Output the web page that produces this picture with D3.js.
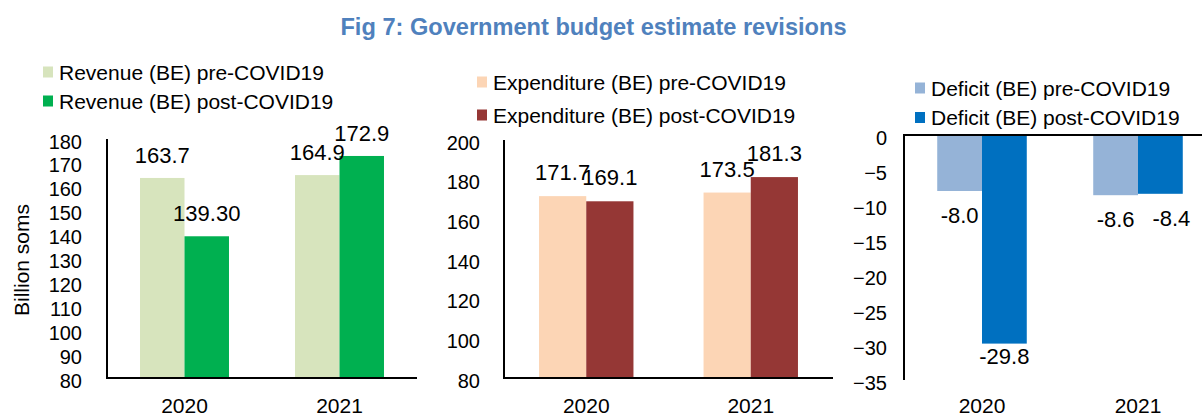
<!DOCTYPE html>
<html>
<head>
<meta charset="utf-8">
<script src="https://cdn.jsdelivr.net/npm/d3@7/dist/d3.min.js"></script>
<style>
  html, body { margin: 0; padding: 0; background: #ffffff; }
  svg { display: block; font-family: "Liberation Sans", Arial, Helvetica, sans-serif; }
</style>
</head>
<body>
<svg id="chart" width="1202" height="415"></svg>
<script>
// ---- data ----
const years = ["2020", "2021"];

const revenuePre  = [163.7, 164.9];
const revenuePost = [139.30, 172.9];
const revenueDecimals = [[1, 1], [2, 1]];

const expenditurePre  = [171.7, 173.5];
const expenditurePost = [169.1, 181.3];
const expenditureDecimals = [[1, 1], [1, 1]];

const deficitPre  = [-8.0, -8.6];
const deficitPost = [-29.8, -8.4];
const deficitDecimals = [[1, 1], [1, 1]];

const revenueTicks     = [80, 90, 100, 110, 120, 130, 140, 150, 160, 170, 180];
const expenditureTicks = [80, 100, 120, 140, 160, 180, 200];
const deficitTicks     = [0, -5, -10, -15, -20, -25, -30, -35];

const seriesNames = {
  revenue: ["Revenue (BE) pre-COVID19", "Revenue (BE) post-COVID19"],
  expenditure: ["Expenditure (BE) pre-COVID19", "Expenditure (BE) post-COVID19"],
  deficit: ["Deficit (BE) pre-COVID19", "Deficit (BE) post-COVID19"]
};

// ---- layout ----
const panels = [
  {
    names: seriesNames.revenue,
    values: [revenuePre, revenuePost],
    decimals: revenueDecimals,
    colors: ["#D7E4BD", "#00B050"],
    ticks: revenueTicks,
    domain: [80, 180],
    xRange: [107, 417], yRange: [378, 139],
    tickRight: 82,
    legend: { x: 43, rows: [72, 101] },
    labelAbove: 15,
    nudges: [[[0, 0], [0, 0]], [[0, 0], [0, 0]]]
  },
  {
    names: seriesNames.expenditure,
    values: [expenditurePre, expenditurePost],
    decimals: expenditureDecimals,
    colors: ["#FCD5B5", "#953735"],
    ticks: expenditureTicks,
    domain: [80, 200],
    xRange: [504, 833], yRange: [378, 140],
    tickRight: 480,
    legend: { x: 477, rows: [82, 115] },
    labelAbove: 16,
    nudges: [[[0, 0], [0, 0]], [[0, 0], [0, 0]]]
  },
  {
    names: seriesNames.deficit,
    values: [deficitPre, deficitPost],
    decimals: deficitDecimals,
    colors: ["#95B3D7", "#0070C0"],
    ticks: deficitTicks,
    domain: [-35, 0],
    xRange: [904, 1216], yRange: [380, 135],
    tickRight: 887,
    legend: { x: 915, rows: [88, 117.5] },
    labelBelow: 32,
    // [series][year] -> [dx, dy] fine placement of value labels
    nudges: [[[0, 0], [0, 0]], [[0, -12], [11, 0]]]
  }
];

const svg = d3.select("#chart");
const textColor = "#000000";

// title
svg.append("text")
  .attr("x", 593.5).attr("y", 35)
  .attr("text-anchor", "middle")
  .attr("font-size", 23.6).attr("font-weight", "bold")
  .attr("fill", "#4F81BD")
  .text("Fig 7: Government budget estimate revisions");

// y-axis title of the first panel
svg.append("text")
  .attr("transform", "translate(29,260) rotate(-90)")
  .attr("text-anchor", "middle")
  .attr("font-size", 21)
  .attr("fill", textColor)
  .text("Billion soms");

const barFrac = 0.287;

panels.forEach(p => {
  const g = svg.append("g");
  const x0 = d3.scaleBand().domain(years).range(p.xRange).padding(0);
  const barW = x0.step() * barFrac;
  const xs = d3.scaleBand().domain([0, 1]).range([0, 2 * barW]).padding(0);
  const y = d3.scaleLinear().domain(p.domain).range(p.yRange);
  const baseVal = p.domain[1] <= 0 ? 0 : p.domain[0];
  const negative = p.domain[1] <= 0;

  // y tick labels
  const yAxis = d3.axisLeft(y).tickValues(p.ticks).tickSize(0).tickPadding(0);
  const ya = g.append("g").attr("transform", `translate(${p.tickRight},0)`).call(yAxis);
  ya.select(".domain").remove();
  ya.selectAll("text")
    .attr("font-size", 20)
    .attr("font-family", "Liberation Sans, Arial, sans-serif")
    .attr("fill", textColor)
    .attr("x", 0)
    .attr("dy", null)
    .attr("dominant-baseline", "auto")
    .attr("transform", "translate(0,9)");

  // bars
  const rows = [];
  p.values.forEach((vals, si) => {
    vals.forEach((v, yi) => {
      rows.push({ si, yi, v, year: years[yi], dec: p.decimals[si][yi] });
    });
  });

  g.selectAll("rect.bar").data(rows).enter().append("rect")
    .attr("class", "bar")
    .attr("x", d => x0(d.year) + x0.bandwidth() / 2 - barW + xs(d.si))
    .attr("width", barW)
    .attr("y", d => Math.min(y(d.v), y(baseVal)))
    .attr("height", d => Math.abs(y(d.v) - y(baseVal)))
    .attr("fill", d => p.colors[d.si]);

  // axis lines
  g.append("line")
    .attr("x1", p.xRange[0]).attr("x2", p.xRange[0])
    .attr("y1", p.yRange[1]).attr("y2", p.yRange[0])
    .attr("stroke", "#000").attr("stroke-width", 2);
  g.append("line")
    .attr("x1", p.xRange[0] - 1).attr("x2", p.xRange[1])
    .attr("y1", y(baseVal)).attr("y2", y(baseVal))
    .attr("stroke", "#000").attr("stroke-width", 2);

  // value labels
  g.selectAll("text.val").data(rows).enter().append("text")
    .attr("class", "val")
    .attr("text-anchor", "middle")
    .attr("font-size", 22)
    .attr("fill", textColor)
    .attr("x", d => x0(d.year) + x0.bandwidth() / 2 - barW + xs(d.si) + barW / 2 + p.nudges[d.si][d.yi][0])
    .attr("y", d => (negative ? y(d.v) + p.labelBelow : y(d.v) - p.labelAbove) + p.nudges[d.si][d.yi][1])
    .text(d => d.v.toFixed(d.dec));

  // category labels along the bottom
  const xAxis = d3.axisBottom(x0).tickSize(0).tickPadding(0);
  const xa = g.append("g").attr("transform", `translate(0,413)`).call(xAxis);
  xa.select(".domain").remove();
  xa.selectAll("text")
    .attr("font-size", 21)
    .attr("font-family", "Liberation Sans, Arial, sans-serif")
    .attr("fill", textColor)
    .attr("y", 0).attr("dy", null);

  // legend
  const lg = g.append("g");
  p.names.forEach((name, i) => {
    const cy = p.legend.rows[i];
    lg.append("rect")
      .attr("x", p.legend.x).attr("y", cy - 5.5)
      .attr("width", 10).attr("height", 11)
      .attr("fill", p.colors[i]);
    lg.append("text")
      .attr("x", p.legend.x + 16).attr("y", cy + 7.5)
      .attr("font-size", 21)
      .attr("fill", textColor)
      .text(name);
  });
});
</script>
</body>
</html>
